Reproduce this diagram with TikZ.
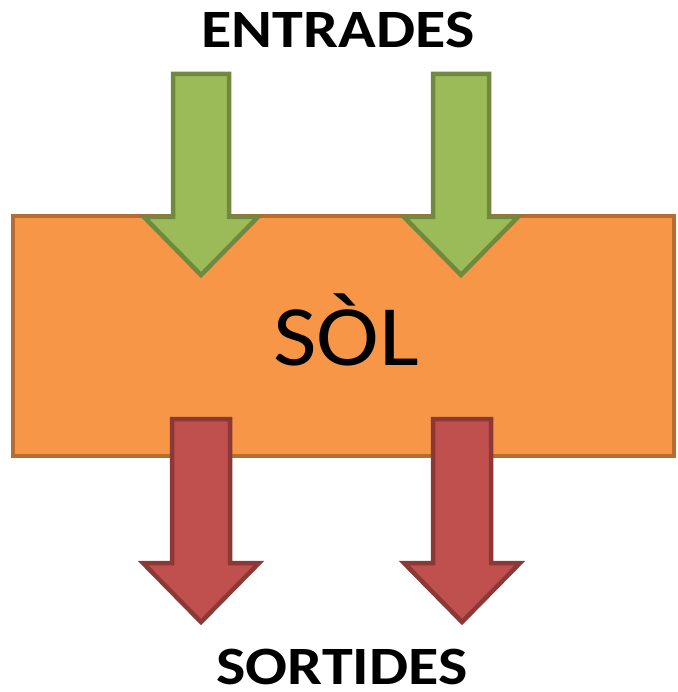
\documentclass[tikz,border=0pt]{standalone}
\usepackage{fontspec}
\setmainfont{Carlito}
\usetikzlibrary{positioning}
\definecolor{soilfill}{HTML}{F79646}
\definecolor{soildraw}{HTML}{B66D31}
\definecolor{infill}{HTML}{9BBB59}
\definecolor{indraw}{HTML}{71893F}
\definecolor{outfill}{HTML}{C0504D}
\definecolor{outdraw}{HTML}{8C3836}
\newcommand{\widetext}[2]{\scalebox{#1}[1]{#2}}
\tikzset{
    % The soil block in the middle
    soil box/.style={
        draw=soildraw, fill=soilfill, line width=4.5pt,
        minimum width=661pt, minimum height=240pt, inner sep=0},
%
    % Incoming (green) and outgoing (red) block arrows
    in arrow/.style={draw=indraw, fill=infill, line width=4.5pt},
    out arrow/.style={draw=outdraw, fill=outfill, line width=4.5pt},
%
    % Headings above and below
    heading/.style={font=\fontsize{54}{58}\selectfont\bfseries,
        anchor=base, inner sep=0}}

\begin{document}
\begin{tikzpicture}[x=1pt, y=-1pt]

\useasboundingbox (0,0) rectangle (677,692);

% Soil block
\node [soil box] (sol) at (343.5,336) {};
\node [anchor=base, inner sep=0, font=\fontsize{86}{90}\selectfont]
    (sol label) at (346,365) {\widetext{1.1}{SÒL}};

\node [heading] (entrades) at (338,48) {\widetext{1.15}{ENTRADES}};
\node [heading] (sortides) at (342,684) {\widetext{1.15}{SORTIDES}};

% Inputs
\foreach \cx in {201,461}
    \path [in arrow]
        (\cx-28,74) -- (\cx+28,74) -- (\cx+28,217) -- (\cx+57,217)
        -- (\cx,275) -- (\cx-57,217) -- (\cx-28,217) -- cycle;

% Outputs
\foreach \cx in {201,462}
    \path [out arrow]
        (\cx-29,419) -- (\cx+29,419) -- (\cx+29,563) -- (\cx+58,563)
        -- (\cx,622) -- (\cx-58,563) -- (\cx-29,563) -- cycle;

\end{tikzpicture}
\end{document}
